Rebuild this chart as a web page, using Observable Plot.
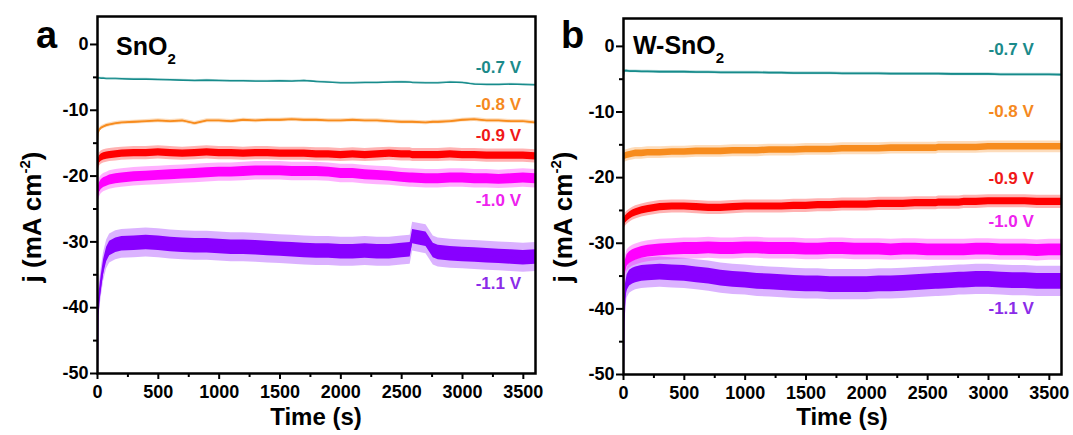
<!DOCTYPE html>
<html><head><meta charset="utf-8">
<script src="https://cdn.jsdelivr.net/npm/d3@7"></script>
<script src="https://cdn.jsdelivr.net/npm/@observablehq/plot@0.6"></script>
<style>
html,body{margin:0;padding:0;background:#fff;}
#wrap{position:relative;width:1073px;height:435px;overflow:hidden;background:#fff;}
#pa,#pb{position:absolute;top:0;}
#pa{left:0;} #pb{left:535px;}
svg{overflow:visible;}
</style></head><body>
<div id="wrap"><div id="pa"></div><div id="pb"></div></div>
<script>
// ---- data ----
const T = [0,5,15,30,50,75,100,150,200,300,400,500,600,700,800,900,1000,1100,1200,1300,1400,1500,1600,1700,1800,1900,2000,2100,2200,2300,2400,2500,2570,2590,2700,2760,2800,2900,3000,3100,3200,3300,3400,3500,3600];

const voltages = ["-0.7 V","-0.8 V","-0.9 V","-1.0 V","-1.1 V"];
const lineColors = ["#168b8b","#f78c1e","#ff0000","#ff00ff","#8800ff"];
const labelColors = ["#1b8a8a","#f5891f","#f01818","#ee22ee","#8b2ce8"];

// Panel a: SnO2
const A07 = [-5.3,-5.1,-5.1,-5.15,-5.15,-5.2,-5.2,-5.2,-5.25, -5.3,-5.3,-5.35,-5.4,-5.45,-5.5,-5.45,-5.5,-5.55,-5.55,-5.6,-5.6,-5.55,-5.6,-5.5,-5.65,-5.75,-5.85,-5.85,-5.8,-5.8,-5.75,-5.7, -5.75,-5.8,-5.85,-5.85, -5.85,-5.75,-5.8,-6.05,-6.1,-6.1,-6.05,-6.1,-6.15];
const A08 = [-14.5,-13.5,-13.0,-12.7,-12.5,-12.3,-12.2,-12.0,-11.9, -11.8,-11.7,-11.6,-11.7,-11.6,-12.0,-11.6,-11.6,-11.7,-11.5,-11.6,-11.5,-11.5,-11.4,-11.5,-11.5,-11.6,-11.6,-11.5,-11.6,-11.6,-11.7,-11.8, -11.8,-11.8,-11.9,-11.8, -11.8,-11.7,-11.5,-11.4,-11.6,-11.6,-11.7,-11.7,-11.9];
const A09 = [-19.0,-18.0,-17.5,-17.2,-17.0,-16.9,-16.8,-16.7,-16.6, -16.5,-16.5,-16.4,-16.5,-16.6,-16.5,-16.4,-16.5,-16.5,-16.6,-16.5,-16.5,-16.6,-16.6,-16.6,-16.7,-16.7,-16.8,-16.7,-16.8,-16.7,-16.6,-16.7, -16.7,-16.8,-16.8,-16.8, -16.8,-16.7,-16.8,-16.8,-16.9,-16.9,-16.9,-16.9,-17.0];
const A10 = [-23.5,-22.5,-21.8,-21.3,-21.0,-20.8,-20.6,-20.4,-20.3, -20.1,-20.0,-19.9,-19.8,-19.7,-19.6,-19.5,-19.4,-19.4,-19.3,-19.2,-19.2,-19.2,-19.3,-19.3,-19.3,-19.4,-19.6,-19.6,-19.8,-19.9,-20.0,-20.2, -20.3,-20.3,-20.4,-20.4, -20.4,-20.3,-20.3,-20.4,-20.4,-20.5,-20.4,-20.3,-20.4];
const A11 = [-50,-41,-38.5,-36.3,-33.8,-31.9,-31.0,-30.5,-30.3, -30.2,-30.1,-30.2,-30.4,-30.5,-30.6,-30.6,-30.7,-30.8,-30.8,-30.9,-31.0,-31.1,-31.2,-31.3,-31.4,-31.4,-31.5,-31.5,-31.4,-31.5,-31.5,-31.3, -31.2,-29.2,-29.6,-31.3, -31.6,-31.8,-31.9,-32.0,-32.1,-32.2,-32.3,-32.4,-32.3];
const NOISE_A = [0.06,0.12,0.55,0.75,1.1];   // dense noise half-width
const SPIKE_A = [0.15,0.3,1.0,1.4,2.2];      // spike envelope half-width
const LABEL_Y_A = [-3.5,-9.1,-13.9,-23.7,-36.4];
const LABEL_T_A = 3108;

// Panel b: W-SnO2
const B07 = [-4.5,-3.8,-3.75,-3.75,-3.8,-3.8,-3.8,-3.85,-3.85, -3.9,-3.9,-3.9,-3.95,-3.95,-4.0,-4.0,-4.0,-4.0,-4.05,-4.05,-4.1,-4.1,-4.1,-4.1,-4.15,-4.15,-4.15,-4.15,-4.2,-4.2,-4.2,-4.2, -4.2,-4.2,-4.25,-4.25, -4.25,-4.25,-4.25,-4.3,-4.3,-4.3,-4.3,-4.3,-4.35];
const B08 = [-17.3,-16.9,-16.7,-16.6,-16.5,-16.4,-16.3,-16.3,-16.2, -16.2,-16.1,-16.1,-16.0,-16.0,-16.0,-15.9,-15.9,-15.9,-15.8,-15.8,-15.8,-15.7,-15.7,-15.7,-15.6,-15.6,-15.6,-15.6,-15.5,-15.5,-15.5,-15.5, -15.5,-15.4,-15.4,-15.4, -15.4,-15.4,-15.3,-15.3,-15.3,-15.3,-15.3,-15.3,-15.3];
const B09 = [-27.5,-26.8,-26.4,-26.1,-25.8,-25.5,-25.3,-25.0,-24.8, -24.5,-24.4,-24.4,-24.5,-24.6,-24.6,-24.5,-24.4,-24.4,-24.4,-24.4,-24.3,-24.3,-24.2,-24.2,-24.1,-24.1,-24.1,-24.0,-24.0,-24.0,-23.9,-23.9, -23.9,-23.8,-23.8,-23.8, -23.7,-23.7,-23.6,-23.6,-23.6,-23.6,-23.7,-23.7,-23.7];
const B10 = [-38.0,-35.0,-33.5,-32.6,-32.2,-31.9,-31.7,-31.4,-31.2, -31.0,-30.9,-30.8,-30.8,-30.7,-30.8,-30.8,-30.7,-30.7,-30.8,-30.8,-30.8,-30.9,-30.9,-30.8,-30.8,-30.9,-30.9,-30.9,-31.0,-30.9,-30.9,-31.0, -31.0,-31.0,-31.0,-31.0, -31.0,-30.9,-30.9,-31.0,-31.0,-31.0,-31.1,-31.0,-31.0];
const B11 = [-50,-42,-37.5,-36.0,-35.3,-35.0,-34.8,-34.6,-34.5, -34.4,-34.5,-34.6,-34.8,-35.0,-35.3,-35.5,-35.6,-35.8,-35.9,-36.0,-36.1,-36.2,-36.2,-36.3,-36.3,-36.3,-36.3,-36.2,-36.2,-36.1,-36.0,-35.9, -35.8,-35.8,-35.7,-35.6, -35.6,-35.5,-35.5,-35.6,-35.7,-35.7,-35.8,-35.8,-35.8];
const NOISE_B = [0.1,0.5,0.55,0.9,1.2];
const SPIKE_B = [0.22,0.9,1.0,1.6,2.3];
const LABEL_Y_B = [-0.55,-9.9,-20.1,-26.7,-39.9];
const LABEL_T_B = 3000;

const Y_MAJOR = [-50,-40,-30,-20,-10,0];
const Y_MINOR = [-45,-35,-25,-15,-5];
const X_MAJOR = [0,500,1000,1500,2000,2500,3000,3500];
const X_MINOR = [250,750,1250,1750,2250,2750,3250];

const FONT = "'Liberation Sans', Arial, Helvetica, sans-serif";

function rowsOf(S, core, spike) {
  return T.map((t, i) => ({t, v: S[i], lo: S[i]-core, hi: S[i]+core, lo2: S[i]-spike, hi2: S[i]+spike}));
}

function makePanel(cfg) {
  const marks = [
    Plot.axisY({ticks: Y_MAJOR, tickSize: 7, tickPadding: 2, strokeWidth: 2, fontSize: 18, fontWeight: "bold", tickFormat: d => String(d), label: null}),
    Plot.axisY({ticks: Y_MINOR, tickSize: 4, strokeWidth: 2, text: null, label: null}),
    Plot.axisX({ticks: X_MAJOR, tickSize: 6, tickPadding: 6, strokeWidth: 2, fontSize: 18, fontWeight: "bold", tickFormat: d => String(d), label: null}),
    Plot.axisX({ticks: X_MINOR, tickSize: 4, strokeWidth: 2, text: null, label: null})
  ];
  cfg.order.forEach(k => {
    const rows = rowsOf(cfg.series[k], cfg.noise[k], cfg.spike[k]);
    const c = lineColors[k];
    marks.push(Plot.areaY(rows, {x: "t", y1: "lo2", y2: "hi2", fill: c, fillOpacity: 0.3, clip: true}));
    marks.push(Plot.areaY(rows, {x: "t", y1: "lo", y2: "hi", fill: c, clip: true}));
    marks.push(Plot.line(rows, {x: "t", y: "v", stroke: c, strokeWidth: 1.1, clip: true}));
  });
  const labels = voltages.map((s, i) => ({t: cfg.labelT, v: cfg.labelY[i], s, c: labelColors[i]}));
  marks.push(Plot.text(labels, {x: "t", y: "v", text: "s", fill: "c", textAnchor: "start", fontSize: 17, fontWeight: "bold", fontFamily: FONT}));
  marks.push(Plot.frame({stroke: "black", strokeWidth: 2.5}));

  const plot = Plot.plot({
    width: cfg.width, height: 435,
    marginLeft: cfg.ml, marginRight: cfg.mr, marginTop: cfg.mt, marginBottom: cfg.mb,
    x: {domain: [0, 3600]},
    y: {domain: [-50, 4.25]},
    style: {fontFamily: FONT, fontWeight: "bold", color: "black", background: "transparent", overflow: "visible"},
    marks
  });
  const svg = d3.select(plot);
  const txt = (x, y, size) => svg.append("text").attr("x", x).attr("y", y).attr("text-anchor", "start")
    .attr("font-family", FONT).attr("font-weight", "bold").attr("font-size", size).attr("fill", "black");
  // panel letter
  txt(cfg.letterX, 48, 38).text(cfg.letter);
  // sample name with subscript
  const t = txt(cfg.nameX, cfg.nameY, 25);
  t.append("tspan").text(cfg.name);
  t.append("tspan").attr("font-size", 15).attr("dy", 9).text("2");
  // x-axis title
  txt(cfg.xTitleX, 425, 24).attr("text-anchor", "middle").text("Time (s)");
  // y-axis title
  const yt = svg.append("text").attr("transform", `translate(${cfg.yTitleX},217) rotate(-90)`)
    .attr("text-anchor", "middle").attr("font-family", FONT).attr("font-weight", "bold").attr("font-size", 26).attr("fill", "black");
  yt.append("tspan").text("j (mA cm");
  yt.append("tspan").attr("font-size", 15).attr("dy", -11).text("-2");
  yt.append("tspan").attr("dy", 11).text(")");
  return plot;
}

document.getElementById("pa").appendChild(makePanel({
  width: 540, ml: 97, mr: 5, mt: 16, mb: 62,
  series: [A07, A08, A09, A10, A11], noise: NOISE_A, spike: SPIKE_A,
  order: [0, 1, 2, 3, 4],
  labelY: LABEL_Y_A, labelT: LABEL_T_A,
  letter: "a", letterX: 36, name: "SnO", nameX: 116, nameY: 55,
  xTitleX: 316, yTitleX: 41
}));
document.getElementById("pb").appendChild(makePanel({
  width: 538, ml: 88, mr: 12, mt: 18, mb: 61,
  series: [B07, B08, B09, B10, B11], noise: NOISE_B, spike: SPIKE_B,
  order: [0, 1, 2, 4, 3],
  labelY: LABEL_Y_B, labelT: LABEL_T_B,
  letter: "b", letterX: 26, name: "W-SnO", nameX: 98, nameY: 53.5,
  xTitleX: 307, yTitleX: 37
}));
</script>
</body></html>
